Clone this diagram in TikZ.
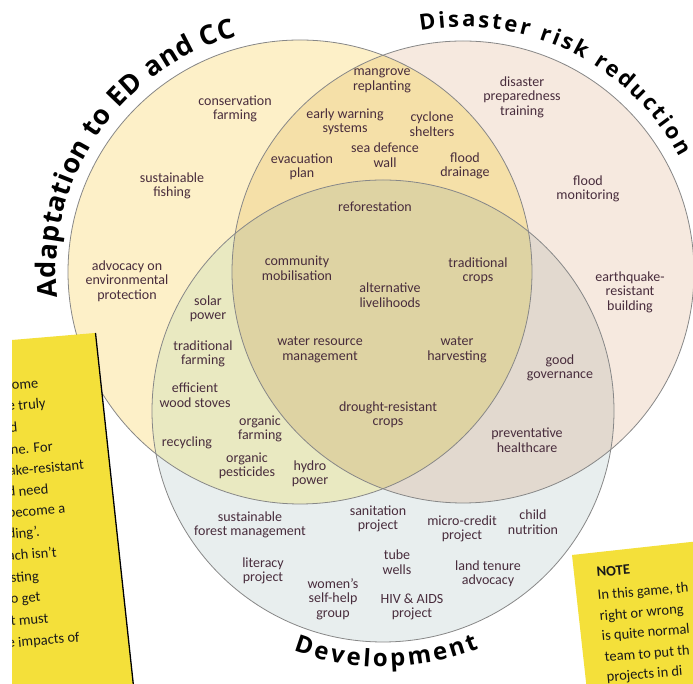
\documentclass[tikz,border=0pt]{standalone}
\usepackage{fontspec}
\usetikzlibrary{decorations.text}
\newfontfamily\labfont{Carlito}
\newfontfamily\titlefont{Open Sans}
\definecolor{colA}{RGB}{253,240,200}
\definecolor{colB}{RGB}{246,233,223}
\definecolor{colC}{RGB}{232,238,238}
\definecolor{colAB}{RGB}{245,224,168}
\definecolor{colAC}{RGB}{233,233,193}
\definecolor{colBC}{RGB}{226,217,207}
\definecolor{colABC}{RGB}{222,211,163}
\definecolor{ringcol}{RGB}{135,135,135}
\definecolor{labcol}{RGB}{72,44,60}
\definecolor{noteyel}{RGB}{244,224,58}
\begin{document}
\begin{tikzpicture}[x=1pt,y=1pt,
  lab/.style={font=\labfont\fontsize{14}{14.5}\selectfont, text=labcol, align=center, inner sep=0pt},
  ring/.style={draw=ringcol, line width=0.8pt},
  notetext/.style={font=\labfont\fontsize{14.5}{15}\selectfont, text=black!90, inner sep=0pt, anchor=base west},
  titledeco/.style 2 args={decorate, decoration={text along path, text={|\titlefont\bfseries\fontsize{#1}{#1}\selectfont|#2}, text align={fit to path}}}]
\useasboundingbox (0,0) rectangle (693,684);
\fill[white] (0,0) rectangle (693,684);
\begin{scope}[shift={(0,684)}, yscale=-1]
  \def\cA{(300,272) circle[radius=232]}
  \def\cB{(463,272) circle[radius=231]}
  \def\cC{(383,411) circle[radius=231]}
  \fill[colA] \cA;
  \fill[colB] \cB;
  \fill[colC] \cC;
  \begin{scope}\clip \cA; \fill[colAB] \cB; \end{scope}
  \begin{scope}\clip \cA; \fill[colAC] \cC; \end{scope}
  \begin{scope}\clip \cB; \fill[colBC] \cC; \end{scope}
  \begin{scope}\clip \cA; \clip \cB; \fill[colABC] \cC; \end{scope}
  \draw[ring] \cA;
  \draw[ring] \cB;
  \draw[ring] \cC;
  % A only
  \node[lab] (n1) at (235,109) {conservation\\farming};
  \node[lab] (n2) at (172,186) {sustainable\\fishing};
  \node[lab] (n3) at (127,281) {advocacy on\\environmental\\protection};
  % A and B
  \node[lab] (n4) at (382,81) {mangrove\\replanting};
  \node[lab] (n5) at (345,122) {early warning\\systems};
  \node[lab] (n6) at (432,124) {cyclone\\shelters};
  \node[lab] (n7) at (385,155) {sea defence\\wall};
  \node[lab] (n8) at (302,167) {evacuation\\plan};
  \node[lab] (n9) at (465,166) {flood\\drainage};
  % centre
  \node[lab] (n10) at (375,207) {reforestation};
  \node[lab] (n11) at (297,268) {community\\mobilisation};
  \node[lab] (n12) at (390,295) {alternative\\livelihoods};
  \node[lab] (n13) at (478,271) {traditional\\crops};
  \node[lab] (n14) at (320,350) {water resource\\management};
  \node[lab] (n15) at (457,350) {water\\harvesting};
  \node[lab] (n16) at (388,415) {drought-resistant\\crops};
  % A and C
  \node[lab] (n17) at (208,309) {solar\\power};
  \node[lab] (n18) at (203,354) {traditional\\farming};
  \node[lab] (n19) at (195,395) {efficient\\wood stoves};
  \node[lab] (n20) at (260,429) {organic\\farming};
  \node[lab] (n21) at (187,443) {recycling};
  \node[lab] (n22) at (247,466) {organic\\pesticides};
  \node[lab] (n23) at (310,474) {hydro\\power};
  % B only
  \node[lab] (n24) at (522,97) {disaster\\preparedness\\training};
  \node[lab] (n25) at (588,189) {flood\\monitoring};
  \node[lab] (n26) at (630,292) {earthquake-\\resistant\\building};
  % B and C
  \node[lab] (n27) at (560,368) {good\\governance};
  \node[lab] (n28) at (527,440) {preventative\\healthcare};
  % C only
  \node[lab] (n29) at (250,525) {sustainable\\forest management};
  \node[lab] (n30) at (378,519) {sanitation\\project};
  \node[lab] (n31) at (462,529) {micro-credit\\project};
  \node[lab] (n32) at (533,522) {child\\nutrition};
  \node[lab] (n33) at (263,571) {literacy\\project};
  \node[lab] (n34) at (397,562) {tube\\wells};
  \node[lab] (n35) at (488,574) {land tenure\\advocacy};
  \node[lab] (n36) at (333,599) {women’s\\self-help\\group};
  \node[lab] (n37) at (412,607) {HIV \& AIDS\\project};
  % left note
  \fill[noteyel] (12,340) -- (95,333) -- (135,700) -- (12,700) -- cycle;
  \draw[black, line width=1.3pt] (95.5,333) -- (135,700);
  \begin{scope}
    \clip (12,340) -- (95,333) -- (135,700) -- (12,700) -- cycle;
    \node[notetext, rotate=5] (l1) at (12,390) {ome};
    \node[notetext, rotate=5] (l2) at (8,411) {e truly};
    \node[notetext, rotate=5] (l3) at (10,433) {d};
    \node[notetext, rotate=5] (l4) at (11,455) {ne. For};
    \node[notetext, rotate=5] (l5) at (9,476) {ake-resistant};
    \node[notetext, rotate=5] (l6) at (8,497) {d need};
    \node[notetext, rotate=5] (l7) at (8,518) {become a};
    \node[notetext, rotate=5] (l8) at (8,539) {ding’.};
    \node[notetext, rotate=5] (l9) at (8,561) {ach isn’t};
    \node[notetext, rotate=5] (l10) at (11,583) {sting};
    \node[notetext, rotate=5] (l11) at (11,604) {o get};
    \node[notetext, rotate=5] (l12) at (11,626) {t must};
    \node[notetext, rotate=5] (l13) at (8,648) {e impacts of};
  \end{scope}
  % right note
  \fill[noteyel] (572,555) -- (700,541) -- (700,700) -- (588,700) -- cycle;
  \begin{scope}
    \clip (572,555) -- (700,541) -- (700,700) -- (588,700) -- cycle;
    \node[notetext, rotate=5, font=\labfont\bfseries\fontsize{14.5}{15}\selectfont] (r1) at (597,577) {NOTE};
    \node[notetext, rotate=5] (r2) at (598,600) {In this game, th};
    \node[notetext, rotate=5] (r3) at (600,621) {right or wrong};
    \node[notetext, rotate=5] (r4) at (602,641) {is quite normal};
    \node[notetext, rotate=5] (r5) at (605,662) {team to put th};
    \node[notetext, rotate=5] (r6) at (607,682) {projects in di};
  \end{scope}
\end{scope}
% titles (normal y-up coordinates)
\path[titledeco={27}{Adaptation to ED and CC}] ([shift={(186:244)}]300,412) arc[start angle=186, end angle=105, radius=244];
\path[titledeco={22}{Disaster risk reduction}] ([shift={(100:245)}]463,412) arc[start angle=100, end angle=28, radius=245];
\path[titledeco={24}{Development}] ([shift={(249.5:256)}]383,273) arc[start angle=249.5, end angle=292, radius=256];
\end{tikzpicture}
\end{document}
